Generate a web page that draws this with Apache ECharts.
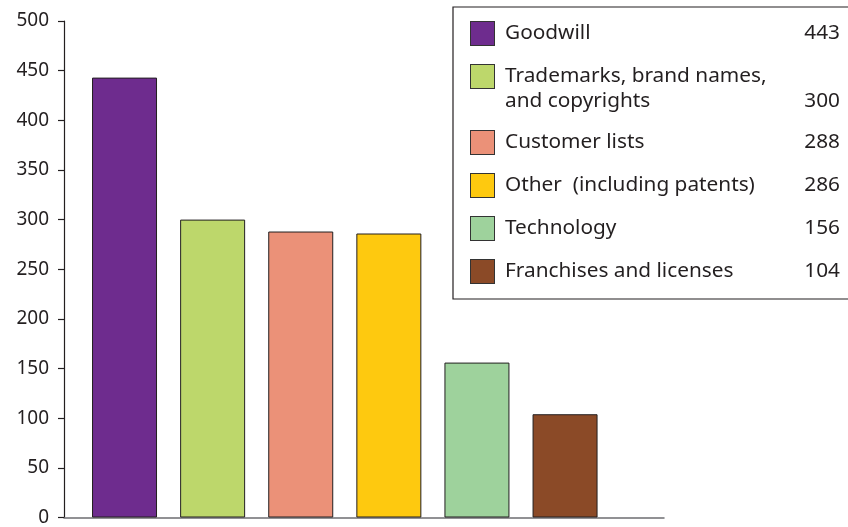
<!DOCTYPE html>
<html>
<head>
<meta charset="utf-8">
<script src="https://cdn.jsdelivr.net/npm/echarts@6/dist/echarts.min.js"></script>
<style>
  html, body { margin: 0; padding: 0; background: #fff; }
  #chart { width: 848px; height: 527px; }
</style>
</head>
<body>
<div id="chart"></div>
<script>
// Intangible asset categories and their amounts
const categories = [
  'Goodwill',
  'Trademarks, brand names,\nand copyrights',
  'Customer lists',
  'Other  (including patents)',
  'Technology',
  'Franchises and licenses'
];
const values = [443, 300, 288, 286, 156, 104];
const colors = ['#6e2c8e', '#bdd76b', '#eb9178', '#fec90f', '#9ed29c', '#8b4a27'];
const yTicks = { min: 0, max: 500, interval: 50 };

const textColor = '#231f20';
const font = '"Noto Sans", "Open Sans", sans-serif';

// One series per category so each gets its own legend entry
const series = categories.map((name, i) => ({
  name: name,
  type: 'bar',
  stack: 'all',
  barWidth: 65,
  data: [[i, values[i]]],
  itemStyle: { color: colors[i], borderColor: textColor, borderWidth: 1 },
  emphasis: { disabled: true }
}));

// Rich-text styles for the legend rows: swatch, spacer, name, amount
const rich = {
  g: { width: 11, lineHeight: 25 },
  b: { width: 34, lineHeight: 25 },
  n: { width: 295, fontSize: 20.8, fontFamily: font, color: textColor, lineHeight: 25 },
  v: { width: 40, align: 'right', fontSize: 20.8, fontFamily: font, color: textColor, lineHeight: 25 }
};
colors.forEach((c, i) => {
  rich['s' + i] = {
    width: 23, height: 23, lineHeight: 25,
    backgroundColor: c, borderColor: '#333', borderWidth: 1
  };
});

const chart = echarts.init(document.getElementById('chart'), null, { renderer: 'canvas' });
chart.setOption({
  animation: false,
  backgroundColor: '#fff',
  grid: { left: 64, right: 184, top: 21, bottom: 5.5, containLabel: false },
  xAxis: {
    type: 'value',
    min: -0.687,
    max: 6.123,
    axisLine: { show: true, onZero: false, lineStyle: { color: '#6d6e71', width: 1.5 } },
    axisTick: { show: false },
    axisLabel: { show: false },
    splitLine: { show: false }
  },
  yAxis: {
    type: 'value',
    min: yTicks.min,
    max: yTicks.max,
    interval: yTicks.interval,
    axisLine: { show: true, onZero: false, lineStyle: { color: textColor, width: 1.2 } },
    axisTick: { show: true, inside: false, length: 6, lineStyle: { color: textColor, width: 1.2 } },
    axisLabel: { margin: 15, fontSize: 19, fontFamily: font, color: textColor },
    splitLine: { show: false }
  },
  legend: {
    orient: 'vertical',
    left: 453,
    top: 7,
    padding: [14, 20, 15, 13],
    itemGap: 18,
    itemWidth: 0,
    itemHeight: 25,
    icon: 'none',
    selectedMode: false,
    borderColor: textColor,
    borderWidth: 1.2,
    data: categories,
    textStyle: { fontSize: 20.8, fontFamily: font, color: textColor, rich: rich },
    formatter: function (name) {
      const i = categories.indexOf(name);
      const lines = name.split('\n');
      if (lines.length === 1) {
        return '{s' + i + '| }{g| }{n|' + lines[0] + '}{v|' + values[i] + '}';
      }
      return '{s' + i + '| }{g| }{n|' + lines[0] + '}\n{b| }{n|' + lines[1] + '}{v|' + values[i] + '}';
    }
  },
  series: series
});
</script>
</body>
</html>
